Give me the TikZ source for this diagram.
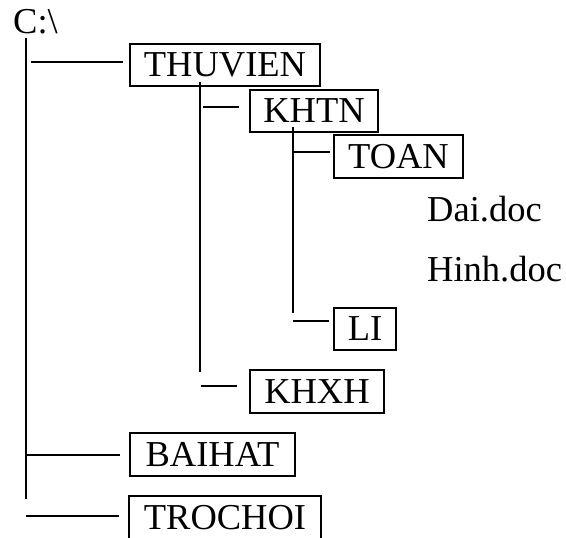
\documentclass[tikz,border=0pt]{standalone}
\usepackage{fontspec}
\setmainfont{Liberation Serif}
\begin{document}
\begin{tikzpicture}[x=1pt,y=-1pt,
  every node/.style={font=\fontsize{36.5}{40}\selectfont, inner sep=0pt},
  folder/.style={draw, line width=1.6pt, minimum height=42.5pt},
  link/.style={line width=1.6pt}]
\useasboundingbox (0,0) rectangle (566,538);
\clip (0,0) rectangle (566,538);

% root and folders
\node[anchor=base west] (root) at (13,34) {C:\textbackslash};
\node[folder, minimum width=190.5pt] (thuvien) at (225,65)    {THUVIEN};
\node[folder, minimum width=128.5pt] (khtn)    at (314,111)   {KHTN};
\node[folder, minimum width=129.5pt] (toan)    at (398.5,156.5) {TOAN};
\node[folder, minimum width=62.5pt]  (li)      at (365,329)   {LI};
\node[folder, minimum width=134.5pt] (khxh)    at (317,391.5) {KHXH};
\node[folder, minimum width=165.5pt] (baihat)  at (212.5,454.5) {BAIHAT};
\node[folder, minimum width=192.5pt] (trochoi) at (225,517.5) {TROCHOI};

% files inside TOAN
\node[anchor=base west] (dai)  at (427,221) {Dai.doc};
\node[anchor=base west] (hinh) at (427,281) {Hinh.doc};

% trunks
\coordinate (rtop) at (26,38);   \coordinate (rbot) at (26,499);
\coordinate (ttop) at (200,82);  \coordinate (tbot) at (200,372);
\coordinate (ktop) at (293,127); \coordinate (kbot) at (293,313);
\draw[link] (rtop) -- (rbot);
\draw[link] (ttop) -- (tbot);
\draw[link] (ktop) -- (kbot);

% branches
\coordinate (b1) at (31,62);
\coordinate (b2) at (203,107);
\coordinate (b3) at (293,152);
\coordinate (b4) at (293,321);
\coordinate (b5) at (201,386);
\coordinate (b6) at (26,455);
\coordinate (b7) at (26,516);
\draw[link, shorten >=6pt]  (b1) -- (b1 -| thuvien.west);
\draw[link, shorten >=10pt] (b2) -- (b2 -| khtn.west);
\draw[link, shorten >=3pt]  (b3) -- (b3 -| toan.west);
\draw[link, shorten >=4pt]  (b4) -- (b4 -| li.west);
\draw[link, shorten >=12pt] (b5) -- (b5 -| khxh.west);
\draw[link, shorten >=9pt]  (b6) -- (b6 -| baihat.west);
\draw[link, shorten >=9pt]  (b7) -- (b7 -| trochoi.west);
\end{tikzpicture}
\end{document}
